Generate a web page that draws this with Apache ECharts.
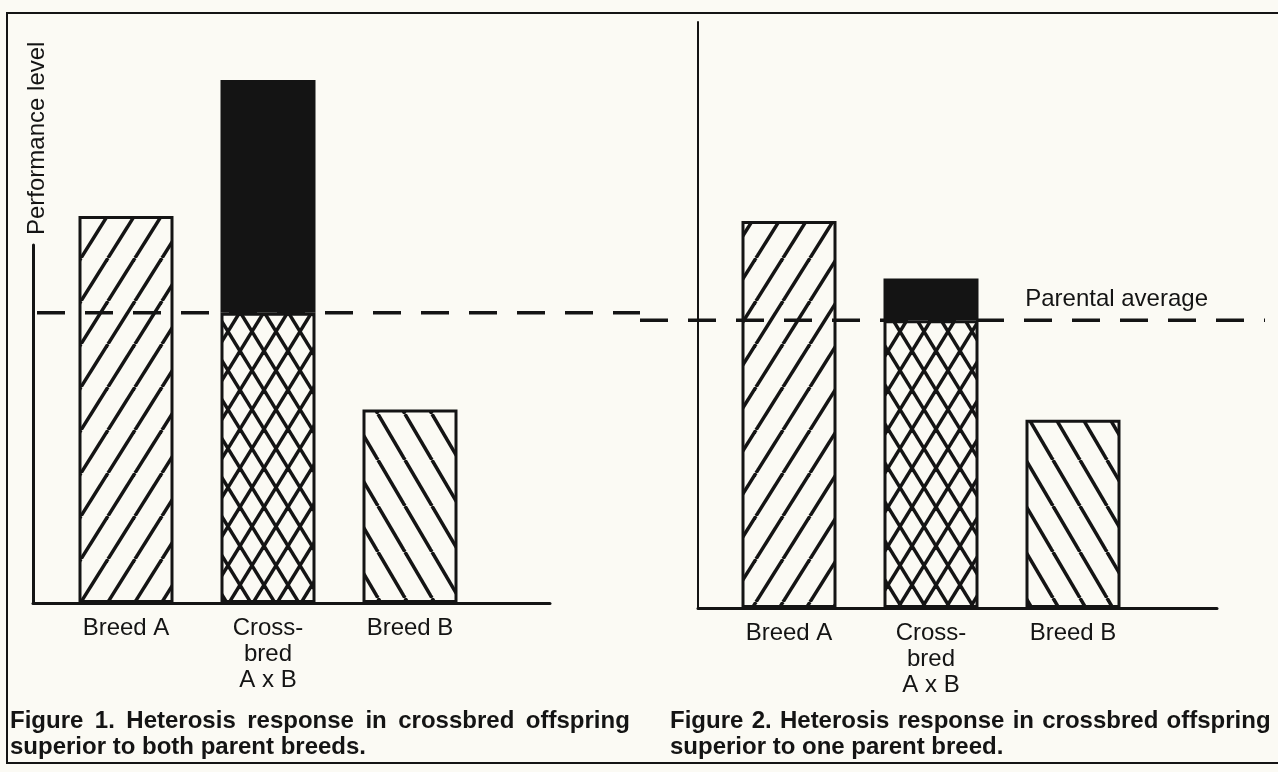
<!DOCTYPE html>
<html>
<head>
<meta charset="utf-8">
<script src="https://cdn.jsdelivr.net/npm/echarts@6/dist/echarts.min.js"></script>
<style>
html,body{margin:0;padding:0;background:#fbfaf4;}
#chart{width:1278px;height:772px;}
</style>
</head>
<body>
<div id="chart"></div>
<script>
// ---- data (performance level, arbitrary units) ----
const categories = ['Breed A', 'Cross-\nbred\nA x B', 'Breed B'];
const fig1Values = [74, 100, 37];   // Breed A, Crossbred A x B, Breed B
const fig2Values = [74, 63, 36];    // Breed A, Crossbred A x B, Breed B
const captionLines1 = ['Figure 1. Heterosis response in crossbred offspring', 'superior to both parent breeds.'];
const captionLines2 = ['Figure 2. Heterosis response in crossbred offspring', 'superior to one parent breed.'];
const yAxisName = 'Performance level';
const avgLabel = 'Parental average';

const INK = '#141414';
const BG = '#fbfaf4';
const FONT = 'Liberation Sans';

function hatch(kind, s, h) {
  const c = document.createElement('canvas');
  c.width = s; c.height = h;
  const g = c.getContext('2d');
  g.fillStyle = BG;
  g.fillRect(0, 0, s, h);
  g.strokeStyle = INK;
  g.lineWidth = 3.5;
  const draw = (x1, y1, x2, y2) => { g.beginPath(); g.moveTo(x1, y1); g.lineTo(x2, y2); g.stroke(); };
  if (kind === 'fwd' || kind === 'cross') {
    for (let k = -1; k <= 1; k++) draw(k * s, h, (k + 1) * s, 0);
  }
  if (kind === 'back' || kind === 'cross') {
    for (let k = -1; k <= 1; k++) draw(k * s, 0, (k + 1) * s, h);
  }
  return { image: c, repeat: 'repeat' };
}
const patA = hatch('fwd', 27, 43);
const patB = hatch('back', 27, 46);
const patX = hatch('cross', 24, 39);

function avg(v) { return (v[0] + v[2]) / 2; }

function barSeries(values, xi) {
  const a = avg(values);
  const border = { borderColor: INK, borderWidth: 3 };
  return [
    {
      type: 'bar', xAxisIndex: xi, yAxisIndex: xi, stack: 'p' + xi, barWidth: 95, z: 2,
      data: [
        { value: values[0], itemStyle: Object.assign({ color: patA }, border) },
        { value: a, itemStyle: Object.assign({ color: patX }, border) },
        { value: values[2], itemStyle: Object.assign({ color: patB }, border) }
      ]
    },
    {
      type: 'bar', xAxisIndex: xi, yAxisIndex: xi, stack: 'p' + xi, barWidth: 95, z: 2,
      itemStyle: Object.assign({ color: INK }, border),
      data: ['-', values[1] - a, '-']
    }
  ];
}

function dashSeries(values, xi, withLabel) {
  const a = avg(values);
  const end = { value: [1, a] };
  if (withLabel) {
    end.label = {
      show: true, position: 'left', distance: 0, formatter: avgLabel, offset: [-57, -21],
      color: INK, fontFamily: FONT, fontSize: 24
    };
  }
  return {
    type: 'line', xAxisIndex: xi, yAxisIndex: xi, z: 5,
    symbol: 'circle', symbolSize: 0, showSymbol: true,
    itemStyle: { color: INK },
    lineStyle: { color: INK, width: 3.5, type: [28, 20] },
    data: [[0, a], end], silent: true
  };
}

function captionText(lines) {
  return lines[0].split(' ').join('{sp| }') + '\n' + lines[1];
}
function captionTitle(lines, left, spWidth) {
  return {
    text: captionText(lines), left: left, top: 708, padding: 0,
    textStyle: {
      fontFamily: FONT, fontWeight: 'bold', fontSize: 24, lineHeight: 26, color: INK,
      rich: { sp: { width: spWidth, fontFamily: FONT, fontWeight: 'bold', fontSize: 24, lineHeight: 26 } }
    }
  };
}

const hidden = { show: false };
const frameAxis = {
  type: 'value', min: 0, max: 1,
  axisLine: { show: true, lineStyle: { color: INK, width: 3 } },
  axisTick: hidden, axisLabel: hidden, splitLine: hidden
};
const catLabel = (m) => ({ interval: 0, margin: m, color: INK, fontFamily: FONT, fontSize: 24, lineHeight: 26 });

const option = {
  backgroundColor: BG,
  animation: false,
  graphic: [{
    type: 'rect', silent: true,
    shape: { x: 7, y: 13, width: 1290, height: 750 },
    style: { fill: 'none', stroke: INK, lineWidth: 2 }
  }],
  title: [
    captionTitle(captionLines1, 10, 11.5),
    captionTitle(captionLines2, 670, 8.3)
  ],
  grid: [
    { left: 55, width: 426, top: 80, bottom: 169 },    // 0 bars fig1
    { left: 718, width: 426, top: 85, bottom: 164 },   // 1 bars fig2
    { left: 37, width: 603, top: 80, bottom: 169 },    // 2 dash fig1
    { left: 640, width: 625, top: 85, bottom: 164 },   // 3 dash fig2
    { left: 33, width: 517, top: 245, bottom: 169 },   // 4 frame fig1
    { left: 698, width: 519, top: 22, bottom: 164 }    // 5 frame fig2
  ],
  xAxis: [
    { type: 'category', gridIndex: 0, data: categories, axisLine: hidden, axisTick: hidden, axisLabel: catLabel(12) },
    { type: 'category', gridIndex: 1, data: categories, axisLine: hidden, axisTick: hidden, axisLabel: catLabel(12) },
    { type: 'value', gridIndex: 2, min: 0, max: 1, show: false },
    { type: 'value', gridIndex: 3, min: 0, max: 1, show: false },
    Object.assign({ gridIndex: 4 }, frameAxis),
    Object.assign({ gridIndex: 5 }, frameAxis)
  ],
  yAxis: [
    { type: 'value', gridIndex: 0, min: 0, max: 100, show: false },
    { type: 'value', gridIndex: 1, min: 0, max: 100, show: false },
    { type: 'value', gridIndex: 2, min: 0, max: 100, show: false },
    { type: 'value', gridIndex: 3, min: 0, max: 100, show: false },
    Object.assign({ gridIndex: 4, name: yAxisName, nameLocation: 'end', nameRotate: 90, nameGap: 10,
      nameTextStyle: { color: INK, fontFamily: FONT, fontSize: 24, verticalAlign: 'top', lineHeight: 8 } }, frameAxis),
    Object.assign({ gridIndex: 5 }, frameAxis, { axisLine: { show: true, lineStyle: { color: INK, width: 2 } } })
  ],
  series: [].concat(
    barSeries(fig1Values, 0),
    barSeries(fig2Values, 1),
    [dashSeries(fig1Values, 2, false), dashSeries(fig2Values, 3, true)]
  )
};

const chart = echarts.init(document.getElementById('chart'), null, { renderer: 'canvas' });
chart.setOption(option);
</script>
</body>
</html>
